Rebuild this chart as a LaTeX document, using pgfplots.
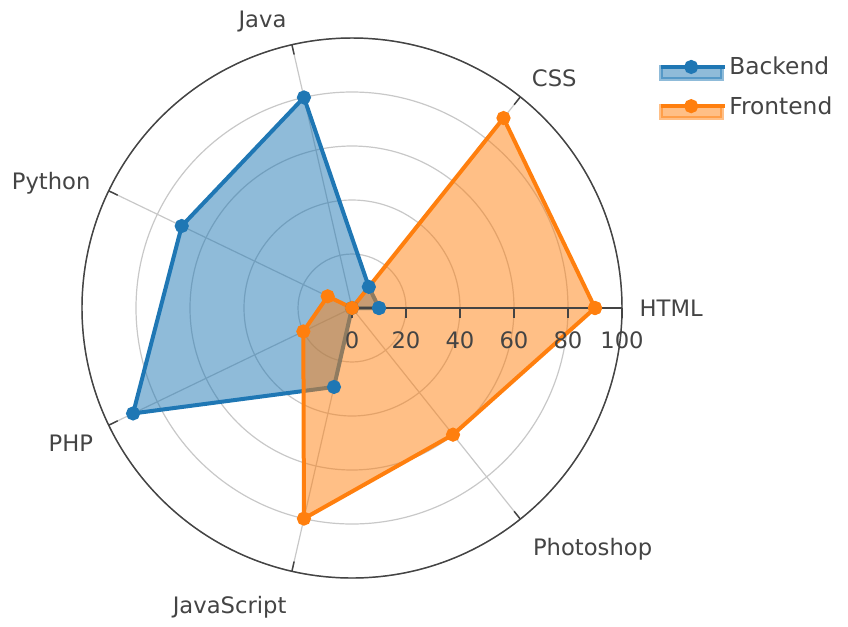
\documentclass[border=0pt]{standalone}
\usepackage{fontspec}
\setmainfont{DejaVu Sans}
\usepackage{pgfplots}
\pgfplotsset{compat=1.18}
\usepgfplotslibrary{polar}
\definecolor{txt}{HTML}{444444}
\definecolor{gridc}{HTML}{C8C8C8}
\definecolor{cblue}{HTML}{1F77B4}
\definecolor{corange}{HTML}{FF7F0E}
\begin{document}
\begin{tikzpicture}[x=1pt,y=1pt]
\begin{polaraxis}[
  width=405pt, height=405pt, scale only axis, clip=false,
  xmin=0, xmax=360, ymin=0, ymax=100,
  xtick={0,51.4286,102.8571,154.2857,205.7143,257.1429,308.5714},
  xticklabels={HTML,CSS,Java,Python,PHP,JavaScript,Photoshop},
  ytick={0,20,40,60,80,100},
  yticklabels={,,,,,},
  xmajorgrids, ymajorgrids,
  major grid style={gridc, line width=0.9pt},
  axis line style={txt, line width=1.1pt},
  tick align=outside,
  major tick length=7.5pt,
  xtick style={txt, line width=1.1pt},
  ytick style={draw=none},
  font=\fontsize{17}{20}\selectfont,
  tick label style={text=txt},
  /pgf/number format/assume math mode=true,
  xticklabel style={inner sep=0pt,
    /utils/exec={\ifcase\ticknum
      \def\la{base west}\def\lx{20.5}\def\ly{-6.5}\or
      \def\la{base west}\def\lx{13.2}\def\ly{13.6}\or
      \def\la{base east}\def\lx{-5.6}\def\ly{20.4}\or
      \def\la{base east}\def\lx{-20.3}\def\ly{4.3}\or
      \def\la{base east}\def\lx{-18.3}\def\ly{-23.3}\or
      \def\la{base east}\def\lx{-5.6}\def\ly{-38.9}\or
      \def\la{base west}\def\lx{14}\def\ly{-32.9}\else
      \def\la{center}\def\lx{0}\def\ly{0}\fi},
    anchor=\la, xshift=\lx pt, yshift=\ly pt},
  legend style={draw=none, fill=none, at={(1.06,0.975)}, anchor=north west,
    font=\fontsize{17.5}{20}\selectfont, text=txt, row sep=9.5pt},
  legend cell align=left,
]
\addplot[cblue, line width=3pt, fill=cblue, fill opacity=0.5, draw opacity=1,
  mark=*, mark size=3.75pt, mark options={fill=cblue, fill opacity=1},
  legend image code/.code={
    \fill[cblue, opacity=0.5] (0pt,-9pt) rectangle (45.75pt,0pt);
    \draw[cblue, line width=3pt, opacity=1] (0pt,0pt) -- (45.75pt,0pt);
    \fill[cblue, opacity=1] (22.9pt,0pt) circle (3.75pt);
    \path (0pt,0pt) -- (48pt,0pt);
  }]
  coordinates {(0,10) (51.4286,10) (102.8571,80) (154.2857,70) (205.7143,90) (257.1429,30) (308.5714,0) (360,10)};
\addlegendentry{Backend}
\addplot[corange, line width=3pt, fill=corange, fill opacity=0.5, draw opacity=1,
  mark=*, mark size=3.75pt, mark options={fill=corange, fill opacity=1},
  legend image code/.code={
    \fill[corange, opacity=0.5] (0pt,-9pt) rectangle (45.75pt,0pt);
    \draw[corange, line width=3pt, opacity=1] (0pt,0pt) -- (45.75pt,0pt);
    \fill[corange, opacity=1] (22.9pt,0pt) circle (3.75pt);
    \path (0pt,0pt) -- (48pt,0pt);
  }]
  coordinates {(0,90) (51.4286,90) (102.8571,0) (154.2857,10) (205.7143,20) (257.1429,80) (308.5714,60) (360,90)};
\addlegendentry{Frontend}
\draw[txt, line width=1.1pt] (axis cs:0,0) -- (axis cs:0,100);
\pgfplotsinvokeforeach{0,20,40,60,80,100}{
  \draw[txt, line width=1.1pt] (axis cs:0,#1) -- ++(0pt,-7.5pt);
  \node[anchor=base, inner sep=0pt, text=txt, yshift=-30pt] at (axis cs:0,#1) {#1};
}
\coordinate (c) at (axis cs:0,0);
\end{polaraxis}
\pgfresetboundingbox
\path[use as bounding box] ([shift={(-264pt,-238.5pt)}]c) rectangle ([shift={(372pt,231pt)}]c);
\end{tikzpicture}
\end{document}
